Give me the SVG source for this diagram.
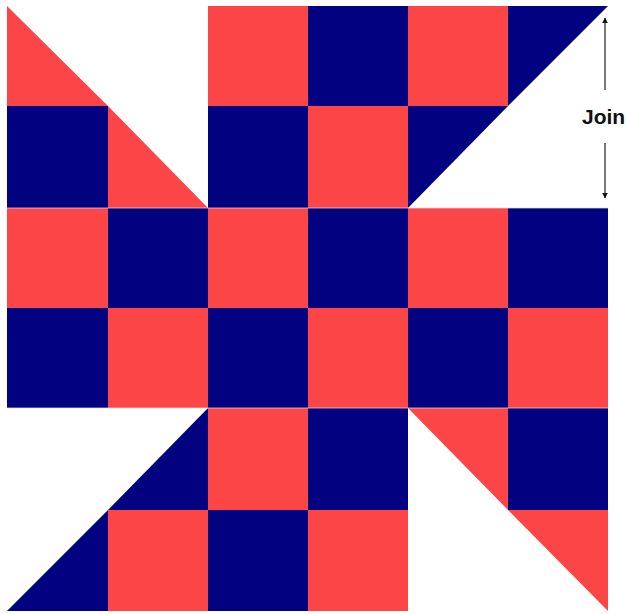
<svg xmlns="http://www.w3.org/2000/svg" width="626" height="614" viewBox="0 0 626 614">
<style>
.r{fill:#FC4547}
.b{fill:#020280}
.lbl{font-family:"Liberation Sans",Arial,sans-serif;font-weight:bold;font-size:21px;fill:#111}
.ln{stroke:#333;stroke-width:1.3;fill:none}
</style>
<defs>
<marker id="ah" viewBox="0 0 10 10" refX="9" refY="5" markerWidth="6" markerHeight="10" markerUnits="userSpaceOnUse" orient="auto">
<path d="M0,0 L10,5 L0,10 z" fill="#111"/>
</marker>
</defs>
<rect width="626" height="614" fill="#fff"/>
<g id="quilt">
<!-- row 0 -->
<polygon class="r" points="7,6 7,106 108,106"/>
<rect class="r" x="208" y="6" width="100" height="100"/>
<rect class="b" x="308" y="6" width="100" height="100"/>
<rect class="r" x="408" y="6" width="100" height="100"/>
<polygon class="b" points="508,6 608,6 508,106"/>
<!-- row 1 -->
<rect class="b" x="7" y="106" width="101" height="102"/>
<polygon class="r" points="108,106 108,208 208,208"/>
<rect class="b" x="208" y="106" width="100" height="102"/>
<rect class="r" x="308" y="106" width="100" height="102"/>
<polygon class="b" points="408,106 508,106 408,208"/>
<!-- row 2 -->
<rect class="r" x="7" y="208" width="101" height="100"/>
<rect class="b" x="108" y="208" width="100" height="100"/>
<rect class="r" x="208" y="208" width="100" height="100"/>
<rect class="b" x="308" y="208" width="100" height="100"/>
<rect class="r" x="408" y="208" width="100" height="100"/>
<rect class="b" x="508" y="208" width="100" height="100"/>
<!-- row 3 -->
<rect class="b" x="7" y="308" width="101" height="100"/>
<rect class="r" x="108" y="308" width="100" height="100"/>
<rect class="b" x="208" y="308" width="100" height="100"/>
<rect class="r" x="308" y="308" width="100" height="100"/>
<rect class="b" x="408" y="308" width="100" height="100"/>
<rect class="r" x="508" y="308" width="100" height="100"/>
<!-- row 4 -->
<polygon class="b" points="208,408 208,510 108,510"/>
<rect class="r" x="208" y="408" width="100" height="102"/>
<rect class="b" x="308" y="408" width="100" height="102"/>
<polygon class="r" points="408,408 508,408 508,510"/>
<rect class="b" x="508" y="408" width="100" height="102"/>
<!-- row 5 -->
<polygon class="b" points="108,510 108,611 7,611"/>
<rect class="r" x="108" y="510" width="100" height="101"/>
<rect class="b" x="208" y="510" width="100" height="101"/>
<rect class="r" x="308" y="510" width="100" height="101"/>
<polygon class="r" points="508,510 608,510 608,611"/>
</g>
<g id="seams" stroke="#e8e0f0" stroke-width="1" opacity="0.7">
<line x1="7" y1="208" x2="608" y2="208"/>
<line x1="7" y1="408" x2="608" y2="408"/>
</g>
<g id="connectors">
<line class="ln" x1="605" y1="90" x2="605" y2="18" marker-end="url(#ah)"/>
<line class="ln" x1="605" y1="143" x2="605" y2="198" marker-end="url(#ah)"/>
</g>
<g id="join-label">
<text class="lbl" x="582" y="124">Join</text>
</g>
</svg>
